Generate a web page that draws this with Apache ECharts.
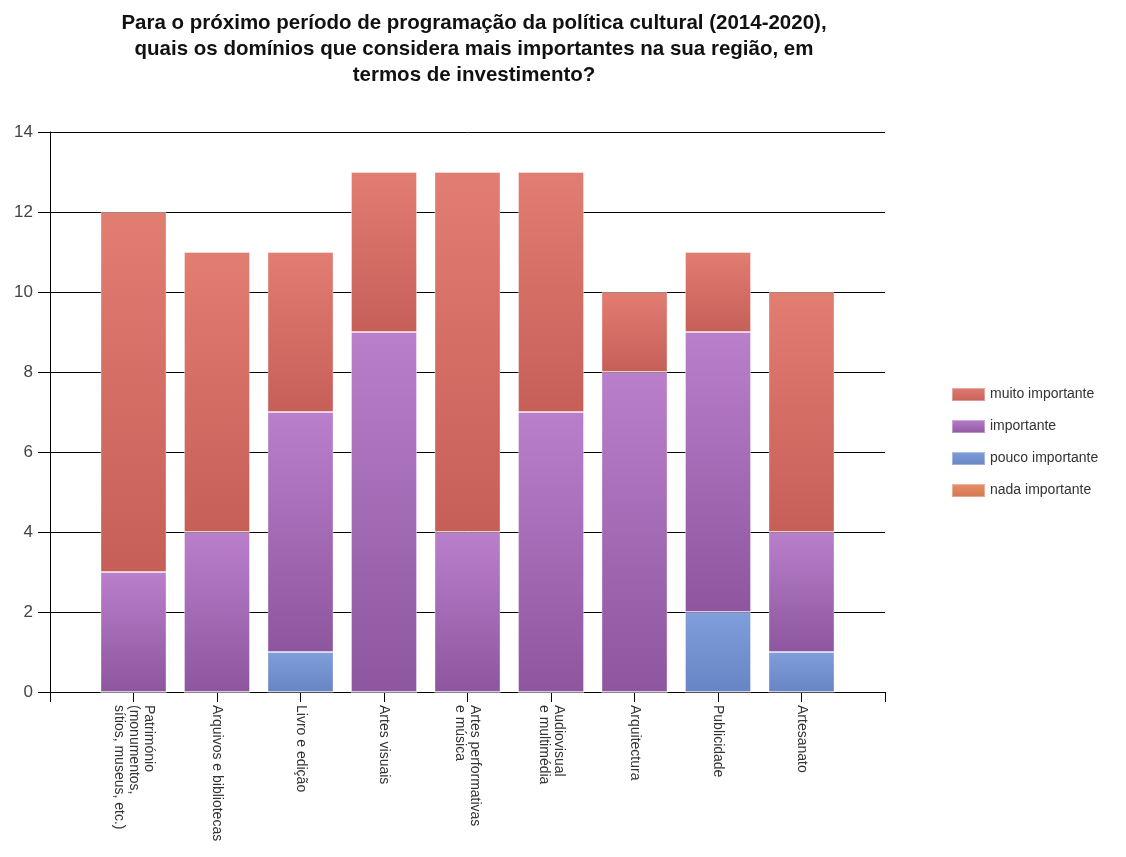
<!DOCTYPE html>
<html>
<head>
<meta charset="utf-8">
<script src="https://cdn.jsdelivr.net/npm/echarts@6/dist/echarts.min.js"></script>
<style>
html,body{margin:0;padding:0;background:#fff;}
#chart{width:1126px;height:857px;}
</style>
</head>
<body>
<div id="chart"></div>
<script>
var titleText = 'Para o próximo período de programação da política cultural (2014-2020),\nquais os domínios que considera mais importantes na sua região, em\ntermos de investimento?';
var categories = [
  'Património\n(monumentos,\nsítios, museus, etc.)',
  'Arquivos e bibliotecas',
  'Livro e edição',
  'Artes visuais',
  'Artes performativas\ne música',
  'Audiovisual\ne multimédia',
  'Arquitectura',
  'Publicidade',
  'Artesanato'
];
var seriesNames = ['muito importante', 'importante', 'pouco importante', 'nada importante'];
var muitoImportante = [9, 7, 4, 4, 9, 6, 2, 2, 6];
var importante      = [3, 4, 6, 9, 4, 7, 8, 7, 3];
var poucoImportante = [0, 0, 1, 0, 0, 0, 0, 2, 1];
var nadaImportante  = [0, 0, 0, 0, 0, 0, 0, 0, 0];
var yTicks = [0, 2, 4, 6, 8, 10, 12, 14];

function grad(top, bottom) {
  return new echarts.graphic.LinearGradient(0, 0, 0, 1, [
    {offset: 0, color: top}, {offset: 1, color: bottom}
  ]);
}
// pad categories so that bars sit at band boundaries like the reference
var axisCats = [''].concat(categories).concat(['']);
function pad(arr) { return [null].concat(arr).concat([null]); }

var colors = {
  'muito importante': ['#e27d72', '#c65f58', '#e0786e'],
  'importante': ['#b97fcb', '#8e569f', '#a66cb8'],
  'pouco importante': ['#809edb', '#6784c4', '#7592d2'],
  'nada importante': ['#e8916a', '#d07650', '#e0885a']
};
function mk(name, data) {
  var c = colors[name];
  return {
    name: name, type: 'bar', stack: 'total', data: pad(data),
    barWidth: 66,
    itemStyle: {color: grad(c[0], c[1]), borderColor: 'rgba(255,255,255,0.35)', borderWidth: 1},
    emphasis: {disabled: true}
  };
}

var chart = echarts.init(document.getElementById('chart'));
chart.setOption({
  animation: false,
  backgroundColor: '#fff',
  color: seriesNames.map(function(n){ return colors[n][2]; }),
  title: {
    text: titleText,
    left: 469, top: 5, textAlign: 'center',
    textStyle: {fontFamily: 'Liberation Sans', fontSize: 20.5, fontWeight: 'bold', color: '#111', lineHeight: 26}
  },
  legend: {
    orient: 'vertical', left: 946, top: 382,
    itemWidth: 33, itemHeight: 13, itemGap: 17,
    data: seriesNames,
    textStyle: {fontFamily: 'Liberation Sans', fontSize: 14, color: '#333'},
    icon: 'rect'
  },
  grid: {left: 50, top: 132, right: 241, bottom: 165, containLabel: false},
  xAxis: {
    type: 'category', data: axisCats, boundaryGap: false,
    axisLine: {lineStyle: {color: '#000', width: 1}},
    axisTick: {show: true, length: 10, lineStyle: {color: '#000'}, alignWithLabel: true},
    axisLabel: {
      rotate: -90, interval: 0, margin: 13,
      fontFamily: 'Liberation Sans', fontSize: 14, color: '#333', lineHeight: 15
    },
    splitLine: {show: false}
  },
  yAxis: {
    type: 'value', min: yTicks[0], max: yTicks[yTicks.length - 1], interval: 2,
    axisLine: {show: true, lineStyle: {color: '#000', width: 1}},
    axisTick: {show: true, length: 12, lineStyle: {color: '#000'}},
    axisLabel: {fontFamily: 'Liberation Sans', fontSize: 17, color: '#444', margin: 17},
    splitLine: {show: true, lineStyle: {color: '#000', width: 1}}
  },
  series: [
    mk('nada importante', nadaImportante),
    mk('pouco importante', poucoImportante),
    mk('importante', importante),
    mk('muito importante', muitoImportante)
  ]
});
</script>
</body>
</html>
